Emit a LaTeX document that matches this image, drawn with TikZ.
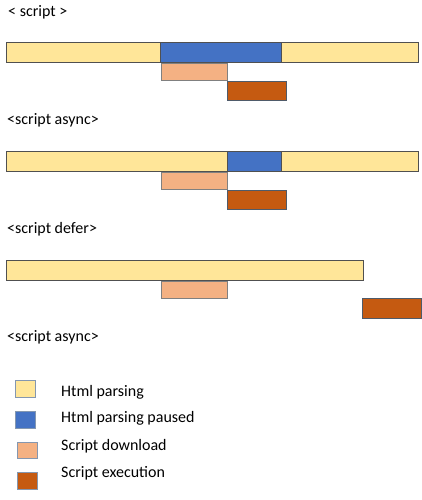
\documentclass[tikz,border=0pt]{standalone}
\usepackage{fontspec}
\setmainfont{Carlito}
\definecolor{parse}{HTML}{FFE699}
\definecolor{paused}{HTML}{4472C4}
\definecolor{dl}{HTML}{F4B183}
\definecolor{exec}{HTML}{C55A11}
\definecolor{edge}{HTML}{505050}
\definecolor{ledge}{HTML}{8497B0}
\tikzset{
  lbl/.style={anchor=west, inner sep=0pt, font=\fontsize{16}{19}\selectfont},
  bar/.style={draw=edge, line width=0.8pt},
  sq/.style={draw=ledge, line width=1pt},
}
\begin{document}
\begin{tikzpicture}[x=1pt,y=-1pt]
\useasboundingbox (0,0) rectangle (422,500);
% row 1
\node[lbl] (t1) at (8,12) {< script >};
\draw[bar, fill=parse] (6,42) rectangle (418,62);
\draw[bar, fill=paused] (160,42) rectangle (281,62);
\draw[bar, draw=gray, fill=dl] (161,63) rectangle (227,80);
\draw[bar, draw=ledge!60!black, fill=exec] (227,81) rectangle (286,100);
% row 2
\node[lbl] (t2) at (7,120) {<script async>};
\draw[bar, fill=parse] (6,151) rectangle (418,171);
\draw[bar, fill=paused] (227,151) rectangle (281,171);
\draw[bar, draw=gray, fill=dl] (161,172) rectangle (227,189);
\draw[bar, draw=ledge!60!black, fill=exec] (227,190) rectangle (286,209);
% row 3
\node[lbl] (t3) at (7,229) {<script defer>};
\draw[bar, fill=parse] (6,260) rectangle (363,280);
\draw[bar, draw=gray, fill=dl] (161,281) rectangle (227,298);
\draw[bar, draw=ledge!60!black, fill=exec] (362,298) rectangle (421,318);
% row 4 title
\node[lbl] (t4) at (7,337) {<script async>};
% legend
\draw[sq, fill=parse] (15,380) rectangle (35,397);
\draw[sq, fill=paused] (15,411) rectangle (35,428);
\draw[sq, fill=dl] (17,442) rectangle (37,458);
\draw[sq, fill=exec] (17,472) rectangle (37,489);
\node[lbl] (l1) at (61,392) {Html parsing};
\node[lbl] (l2) at (61,418) {Html parsing paused};
\node[lbl] (l3) at (61,446) {Script download};
\node[lbl] (l4) at (61,473) {Script execution};
\end{tikzpicture}
\end{document}
